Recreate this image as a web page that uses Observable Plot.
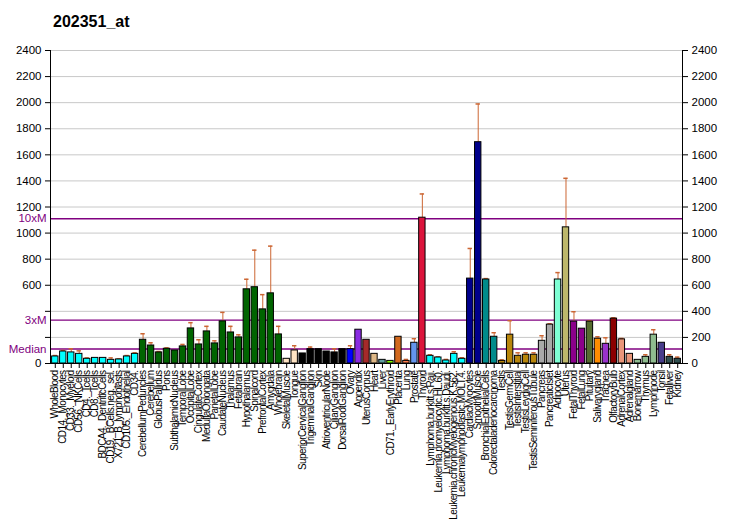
<!DOCTYPE html>
<html><head><meta charset="utf-8">
<script src="https://cdn.jsdelivr.net/npm/d3@7"></script>
<script src="https://cdn.jsdelivr.net/npm/@observablehq/plot@0.6"></script>
<style>
body{margin:0;background:#fff;}
#wrap{position:relative;width:732px;height:530px;}
#title{position:absolute;left:53px;top:13px;font:bold 16px "Liberation Sans",Arial,sans-serif;color:#000;z-index:2;}
g[aria-label="x-axis tick label"] text{letter-spacing:-0.6px;}
</style></head>
<body><div id="wrap"><div id="title">202351_at</div></div>
<script>
const names = ["WholeBlood","CD14._Monocytes","CD33._Myeloid","CD56._NKCells","CD4._Tcells","CD8._Tcells","BDCA4._DentriticCells","CD19._BCells.neg._sel.","X721_B_lymphoblasts","CD105._Endothelial","CD34.","CerebellumPeduncles","Cerebellum","GlobusPallidus","Pons","SubthalamicNucleus","TemporalLobe","OccipitalLobe","CingulateCortex","MedullaOblongata","ParietalLobe","CaudateNucleus","Thalamus","Fetalbrain","Hypothalamus","Spinalcord","PrefrontalCortex","Amygdala","Wholebrain","SkeletalMuscle","Tongue","SuperiorCervicalGanglion","TrigeminalGanglion","Skin","AtrioventricularNode","CiliaryGanglion","DorsalRootGanglion","Ovary","Appendix","UterusCorpus","Heart","Liver","CD71._EarlyErythroid","Placenta","Lung","Prostate","Thyroid","Lymphoma.burkitt.s.Raji.","Leukemia.promyelocytic.HL.60.","Lymphoma.burkitt.s.Daudi.","Leukemia.chronicMyelogenous.K.562.","Leukemialymphoblastic.MOLT.4.","CardiacMyocytes","SmoothMuscle","BronchialEpithelialCells","Colorectaladenocarcinoma","Testis","TestisGermCell","TestisInterstitial","TestisLeydigCell","TestisSeminiferousTubule","Pancreas","PancreaticIslet","Adipocyte","Uterus","FetalThyroid","FetalLung","Pituitary","Salivarygland","Trachea","OlfactoryBulb","AdrenalCortex","Adrenalgland","Bonemarrow","Thymus","Lymphnode","Tonsil","Fetalliver","Kidney"];
const values = [54,92,85,74,36,43,43,28,31,54,74,182,138,85,113,100,131,269,146,246,154,323,238,200,569,585,415,538,223,36,100,77,110,110,92,85,110,110,259,182,74,28,20,205,20,159,1118,59,46,23,74,36,651,1697,644,205,20,221,59,67,67,174,298,644,1044,321,267,321,190,151,344,185,74,28,51,221,159,51,36];
const errTop = [61,100,113,97,43,null,null,43,36,61,82,228,159,92,120,null,146,313,182,285,174,392,285,220,646,869,528,900,285,null,136,null,126,null,null,113,null,136,null,null,null,null,null,null,31,190,1300,67,51,31,90,44,882,1990,651,236,28,328,82,82,82,213,305,697,1420,397,null,328,205,197,351,192,null,null,67,259,null,67,49];
const colors = ["#00FFFF","#00FFFF","#00FFFF","#00FFFF","#00FFFF","#00FFFF","#00FFFF","#00FFFF","#00FFFF","#00FFFF","#00FFFF",
"#006400","#006400","#006400","#006400","#006400","#006400","#006400","#006400","#006400","#006400","#006400","#006400","#006400","#006400","#006400","#006400","#006400","#006400",
"#FFE4C4","#FFE4C4","#000000","#000000","#000000","#000000","#000000","#000000",
"#0000FF","#8A2BE2","#A52A2A","#DEB887","#5F9EA0","#7FFF00","#D2691E","#FF7F50","#6495ED","#DC143C",
"#00FFFF","#00FFFF","#00FFFF","#00FFFF","#00FFFF",
"#00008B","#00008B","#008B8B","#008B8B",
"#B8860B","#B8860B","#B8860B","#B8860B","#B8860B",
"#A9A9A9","#A9A9A9","#7FFFD4","#BDB76B","#8B008B","#8B008B","#556B2F","#FF8C00","#9932CC","#8B0000","#E9967A","#E9967A","#8FBC8F","#8FBC8F","#8FBC8F","#483D8B","#2F4F4F","#2F4F4F"];
const median = 111;
const refLines = [{v: median, label: "Median"}, {v: median*3, label: "3xM"}, {v: median*10, label: "10xM"}];
const yTicks = d3.range(0, 2401, 200);

const data = names.map((n, i) => ({name: n, value: values[i], err: errTop[i], color: colors[i]}));
const errData = data.filter(d => d.err != null);

const chart = Plot.plot({
  width: 732, height: 530,
  marginLeft: 50, marginRight: 50, marginTop: 50, marginBottom: 167,
  style: {fontFamily: "'Liberation Sans', Arial, sans-serif", background: "#fff"},
  x: {domain: names, padding: 0.2, label: null},
  y: {domain: [0, 2400], label: null},
  marks: [
    Plot.ruleY(yTicks, {stroke: "#c8c8c8", strokeWidth: 1}),
    Plot.ruleY(refLines, {y: "v", stroke: "#800080", strokeWidth: 1.3}),
    Plot.ruleX(errData, {x: "name", y1: "value", y2: "err", stroke: "#CC6633", strokeWidth: 1}),
    Plot.tickY(errData, {x: "name", y: "err", stroke: "#CC6633", strokeWidth: 1.5, insetLeft: 1, insetRight: 1}),
    Plot.barY(data, {x: "name", y: "value", fill: "color", stroke: "#000", strokeWidth: 1}),
    Plot.axisY({anchor: "left", ticks: yTicks, tickSize: 5, fontSize: 11.5, tickFormat: d => (d === 200 || d === 400) ? "" : String(d), label: null}),
    Plot.axisY({anchor: "right", ticks: yTicks, tickSize: 5, fontSize: 11.5, tickFormat: d => String(d), label: null}),
    Plot.text(refLines, {y: "v", text: "label", frameAnchor: "left", dx: -4, textAnchor: "end", fill: "#800080", fontSize: 11.5}),
    Plot.axisX({tickRotate: -90, tickSize: 5, tickPadding: 2, fontSize: 10, label: null}),
    Plot.frame({anchor: "left", stroke: "#000"}),
    Plot.frame({anchor: "right", stroke: "#000"}),
    Plot.frame({anchor: "bottom", stroke: "#000"})
  ]
});
document.getElementById("wrap").appendChild(chart);
chart.style.position = "absolute"; chart.style.left = "0"; chart.style.top = "0";
</script></body></html>
